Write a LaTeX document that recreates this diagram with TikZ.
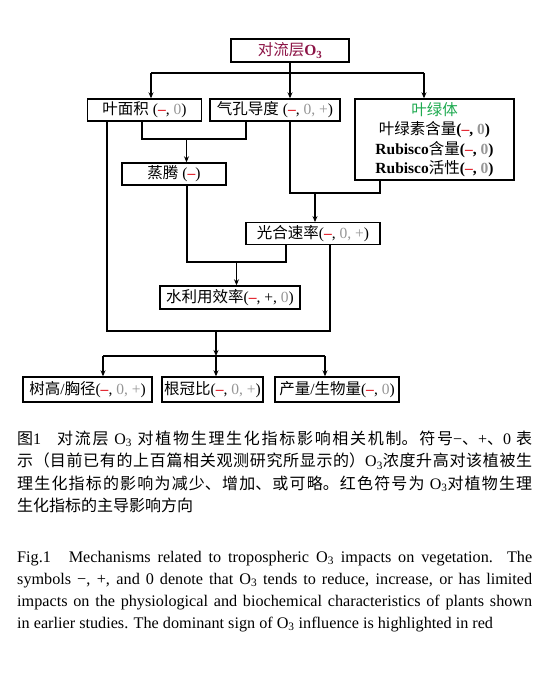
\documentclass[tikz,border=0pt]{standalone}
\usepackage{fontspec}
\setmainfont{Liberation Serif}
\newfontfamily\zh{Noto Sans CJK SC}
\usetikzlibrary{arrows.meta,positioning,calc}
\definecolor{negred}{RGB}{225,30,40}
\definecolor{zgray}{RGB}{150,150,150}
\definecolor{o3red}{RGB}{140,20,70}
\definecolor{chlgreen}{RGB}{30,170,80}
\newcommand\mi{\textcolor{negred}{\textbf{–}}}
\newcommand\gz{\textcolor{zgray}{0}}
\newcommand\lt[1]{{\rmfamily #1}}
\tikzset{
  box/.style ={draw,line width=1.4pt,inner sep=0pt,
               font=\fontsize{15.5}{19.4}\selectfont},
  ln/.style  ={line width=1.4pt},
  arr/.style ={line width=1.4pt,-{Stealth[length=6pt,width=5pt]}},
  capt/.style={anchor=base west,inner sep=0pt},
}

\begin{document}
\begin{tikzpicture}[x=1pt,y=-1pt]
\useasboundingbox (0,0) rectangle (543,675);
% boxes
\node[box,minimum width=118pt,minimum height=23pt,text=o3red] (o3) at (290,50.5)
  {{\zh 对流层}\textbf{O\textsubscript{3}}};
\node[box,minimum width=114pt,minimum height=22pt] (leaf) at (144.5,110) {{\zh 叶面积} (\mi, \gz)};
\node[box,minimum width=130pt,minimum height=22pt] (stoma) at (275,110)
  {{\zh 气孔导度} (\mi, \textcolor{zgray}{0, +})};
\node[box,minimum width=159pt,minimum height=81pt,align=center] (chloro) at (434.5,139.5)
  {\textcolor{chlgreen}{\zh 叶绿体}\\
   {\zh 叶绿素含量}\textbf{(\mi, \gz)}\\
   \textbf{Rubisco}{\zh 含量}\textbf{(\mi, \gz)}\\
   \textbf{Rubisco}{\zh 活性}\textbf{(\mi, \gz)}};
\node[box,minimum width=104pt,minimum height=22pt] (transp) at (174,174) {{\zh 蒸腾} (\mi)};
\node[box,minimum width=134pt,minimum height=21.5pt] (photo) at (313,233.5)
  {{\zh 光合速率}(\mi, \textcolor{zgray}{0, +})};
\node[box,minimum width=140pt,minimum height=23pt] (wue) at (230,297.5)
  {{\zh 水利用效率}(\mi, +, \gz)};
\node[box,minimum width=129pt,minimum height=25pt] (height) at (87.5,389.5)
  {{\zh 树高}/{\zh 胸径}(\mi, \textcolor{zgray}{0, +})};
\node[box,minimum width=101pt,minimum height=25pt] (rootshoot) at (212.5,389.5)
  {{\zh 根冠比}(\mi, \textcolor{zgray}{0, +})};
\node[box,minimum width=124pt,minimum height=25pt] (yield) at (337,389.5)
  {{\zh 产量}/{\zh 生物量}(\mi, \gz)};

% O3 -> first row
\coordinate (t) at (o3.south |- 0,73);
\coordinate (tl) at (151,73);
\coordinate (tr) at (424,73);
\draw[ln] (o3.south) -- (t);
\draw[ln] (tl) -- (tr);
\draw[arr] (tl) -- (tl |- leaf.north);
\draw[arr] (t) -- (t |- stoma.north);
\draw[arr] (tr) -- (tr |- chloro.north);

% leaf area + stomata -> transpiration
\coordinate (a1) at (142,139);
\coordinate (a2) at (246,139);
\coordinate (a3) at (186.5,139);
\draw[ln] (a1 |- leaf.south) -- (a1) -- (a2) -- (a2 |- stoma.south);
\draw[arr] (a3) -- (a3 |- transp.north);

% stomata + chloroplast -> photosynthesis
\coordinate (b1) at (290,193);
\coordinate (b2) at (380,193);
\coordinate (b3) at (315,193);
\draw[ln] (b1 |- stoma.south) -- (b1) -- (b2) -- (b2 |- chloro.south);
\draw[arr] (b3) -- (b3 |- photo.north);

% transpiration + photosynthesis -> WUE
\coordinate (c1) at (187,262);
\coordinate (c2) at (286,262);
\coordinate (c3) at (236.5,262);
\draw[ln] (c1 |- transp.south) -- (c1) -- (c2) -- (c2 |- photo.south);
\draw[arr] (c3) -- (c3 |- wue.north);

% leaf area + photosynthesis -> growth
\coordinate (d1) at (107,331);
\coordinate (d2) at (330,331);
\coordinate (d3) at (216,331);
\coordinate (e) at (216,356);
\coordinate (e1) at (103,356);
\coordinate (e2) at (325,356);
\draw[ln] (d1 |- leaf.south) -- (d1) -- (d2) -- (d2 |- photo.south);
\draw[arr] (d3) -- (e);
\draw[ln] (e1) -- (e2);
\draw[arr] (e1) -- (e1 |- height.north);
\draw[arr] (e) -- (e |- rootshoot.north);
\draw[arr] (e2) -- (e2 |- yield.north);

% captions
\node[capt] (capzh) at (17,444) {\parbox[t]{515pt}{\zh\fontsize{16}{22.5}\selectfont
  \XeTeXlinebreaklocale "zh"\XeTeXlinebreakskip=0pt plus 2pt
  图\lt{1}\hspace{1em}对流层\lt{ O\textsubscript{3} }对植物生理生化指标影响相关机制。符号\lt{−}、\lt{+}、\lt{0} 表\linebreak
  示（目前已有的上百篇相关观测研究所显示的）\lt{O\textsubscript{3}}浓度升高对该植被生\linebreak
  理生化指标的影响为减少、增加、或可略。红色符号为\lt{ O\textsubscript{3}}对植物生理\linebreak
  生化指标的主导影响方向}};
\node[capt] (capen) at (17,562) {\parbox[t]{515pt}{\fontsize{16.2}{22}\selectfont
  \hyphenpenalty=10000 \exhyphenpenalty=10000
  Fig.1\hspace{1.1em}Mechanisms related to tropospheric O\textsubscript{3} impacts on vegetation. The\linebreak
  symbols −, +, and 0 denote that O\textsubscript{3} tends to reduce, increase, or has limited\linebreak
  impacts on the physiological and biochemical characteristics of plants shown\linebreak
  in earlier studies. The dominant sign of O\textsubscript{3} influence is highlighted in red}};
\end{tikzpicture}
\end{document}
